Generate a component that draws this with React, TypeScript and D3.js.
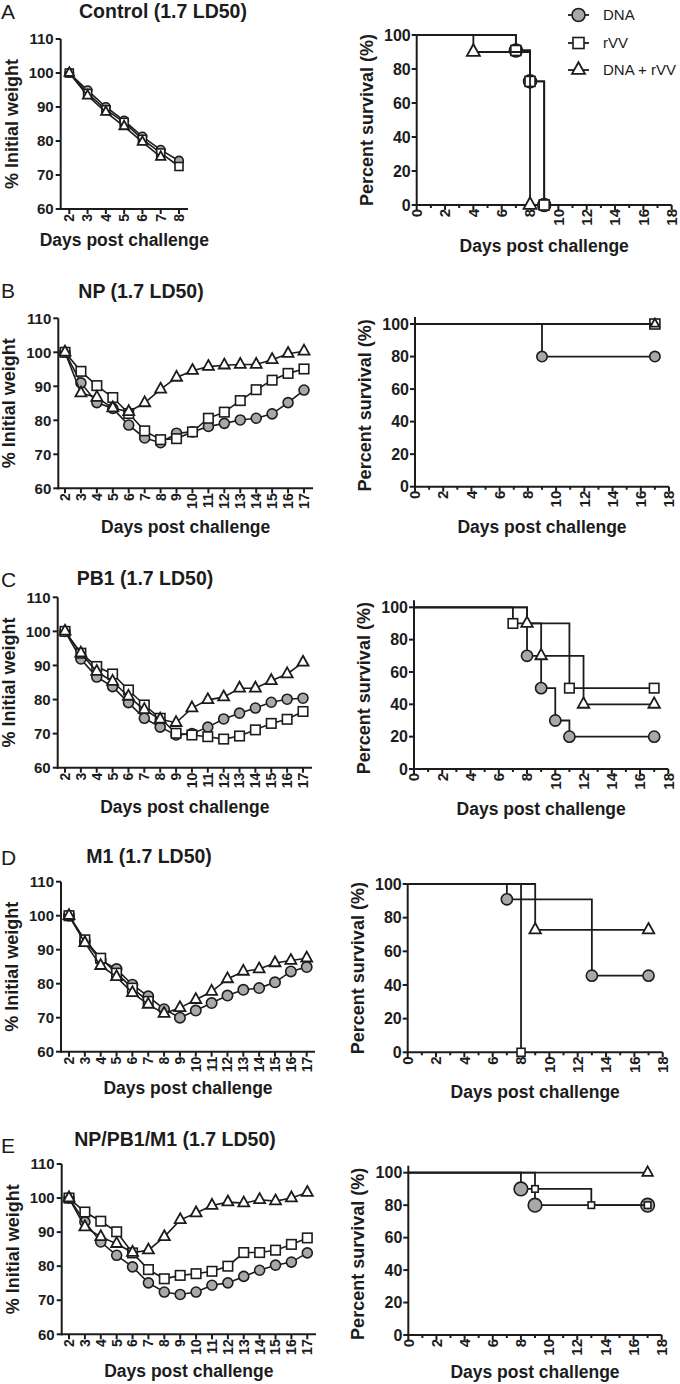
import React from "react";
import * as d3 from "d3";

// ---------- DATA ----------
const WEIGHT_TICKS = [60, 70, 80, 90, 100, 110];
const SURV_Y_TICKS = [0, 20, 40, 60, 80, 100];
const SURV_X_TICKS = d3.range(0, 19);

const DAYS_A = [2, 3, 4, 5, 6, 7, 8];
const DAYS_FULL = [2, 3, 4, 5, 6, 7, 8, 9, 10, 11, 12, 13, 14, 15, 16, 17];

// Panel A weights
const A_DNA = [100, 94.9, 90, 86, 81.3, 77.4, 74.2];
const A_RVV = [100, 94, 89.2, 85.5, 80.5, 76.5, 72.5];
const A_DNARVV = [100, 93.3, 88.5, 84.3, 79.7, 75.3];
// Panel B weights
const B_DNA = [100, 91, 85.2, 83.5, 78.6, 74.8, 73.4, 76.2, 76.6, 78.2, 79.1, 80.1, 80.6, 81.9, 85.2, 88.9];
const B_RVV = [100, 94.4, 90.2, 86.7, 82, 76.9, 74.3, 74.6, 76.6, 80.6, 82.4, 85.8, 89, 91.8, 93.8, 95.1];
const B_DNARVV = [100, 88, 86.7, 83.6, 82.5, 85.1, 89.1, 92.6, 94.6, 95.8, 96.2, 96.4, 96.4, 97.8, 99.6, 100.3];
// Panel C weights
const C_DNA = [100, 91.9, 86.6, 83.8, 79.1, 74.5, 71.9, 69.6, 70, 71.9, 74.3, 76, 77.5, 79.2, 80.1, 80.4];
const C_RVV = [100, 93.6, 89.7, 87.5, 82.8, 78.4, 74.5, 70.1, 69.6, 69.1, 68.4, 69.3, 71.1, 73, 74.2, 76.5];
const C_DNARVV = [100, 93.6, 88.2, 85.3, 80.9, 77, 74.2, 73.2, 77.5, 79.9, 80.7, 83.3, 83.3, 85.5, 87.5, 90.9];
// Panel D weights
const D_DNA = [100, 92.5, 87, 84.3, 79.7, 76.3, 72.5, 70, 72.1, 74.3, 76.5, 78.2, 78.7, 80.4, 83.6, 84.9];
const D_RVV = [100, 92.9, 87.5, 83.1, 78.7, 74.8];
const D_DNARVV = [100, 92, 85.3, 82, 77.3, 73.9, 71.2, 72.9, 75.3, 77.7, 81.4, 83.6, 84.3, 86.1, 86.8, 87.5];
// Panel E weights
const E_DNA = [100, 93, 87.1, 83.2, 79.8, 75.1, 72.4, 71.7, 72.4, 74.4, 75.1, 77, 78.8, 80.3, 81.2, 83.9];
const E_RVV = [100, 95.9, 93.2, 90.1, 83.9, 79, 76.3, 77.3, 77.8, 78.5, 80, 84, 84, 84.7, 86.4, 88.3];
const E_DNARVV = [100, 91.5, 88.6, 86.6, 84, 84.7, 88.6, 93.6, 95.6, 97.8, 98.8, 98.5, 99.5, 99.1, 100, 101.6];

// Survival curves: [day, percent]
const SA_DNA = [[0, 100], [7, 90.9], [8, 72.7], [9, 0]];
const SA_RVV = [[0, 100], [7, 90.9], [8, 72.7], [9, 0]];
const SA_DNARVV = [[0, 100], [4, 90], [8, 0]];
const SB_DNA = [[0, 100], [9, 80], [17, 80]];
const SB_RVV = [[0, 100], [17, 100]];
const SB_DNARVV = [[0, 100], [17, 100]];
const SC_DNA = [[0, 100], [8, 70], [9, 50], [10, 30], [11, 20], [17, 20]];
const SC_RVV = [[0, 100], [7, 90], [11, 50], [17, 50]];
const SC_DNARVV = [[0, 100], [8, 90], [9, 70], [12, 40], [17, 40]];
const SD_DNA = [[0, 100], [7, 90.9], [13, 45.5], [17, 45.5]];
const SD_RVV = [[0, 100], [8, 0]];
const SD_DNARVV = [[0, 100], [9, 72.7], [17, 72.7]];
const SE_DNA = [[0, 100], [8, 90], [9, 80], [17, 80]];
const SE_RVV = [[0, 100], [9, 90], [13, 80], [17, 80]];
const SE_DNARVV = [[0, 100], [17, 100]];

const LEGEND = ["DNA", "rVV", "DNA + rVV"];
const MARKERS = ["circle", "square", "triangle"];

const FONT = "'Liberation Sans', Arial, Helvetica, sans-serif";
const INK = "#1c1c1c";
const GRAY = "#a8a8a8";

// ---------- PANEL LAYOUT ----------
const LEFT = [
  { letter: "A", title: "Control (1.7 LD50)", titleX: 163, titleY: 17.5, letterY: 18.5, days: DAYS_A, series: [A_DNA, A_RVV, A_DNARVV], x0: 60.7, x1: 188, d2: 69.3, dN: 179, yTop: 39, yBot: 209, xTitleDy: 37, ms: { r: 4.3, s: 8, t: 9.5 } },
  { letter: "B", title: "NP (1.7 LD50)", titleX: 141, titleY: 298, letterY: 298, days: DAYS_FULL, series: [B_DNA, B_RVV, B_DNARVV], x0: 58.3, x1: 313, d2: 65, dN: 304, yTop: 318.3, yBot: 488.3, xTitleDy: 45, ms: { r: 5, s: 9.5, t: 11 } },
  { letter: "C", title: "PB1 (1.7 LD50)", titleX: 145, titleY: 585, letterY: 587, days: DAYS_FULL, series: [C_DNA, C_RVV, C_DNARVV], x0: 57.7, x1: 312, d2: 65, dN: 303, yTop: 597.3, yBot: 767.7, xTitleDy: 45, ms: { r: 5, s: 9.5, t: 11 } },
  { letter: "D", title: "M1 (1.7 LD50)", titleX: 149, titleY: 863, letterY: 865, days: DAYS_FULL, series: [D_DNA, D_RVV, D_DNARVV], x0: 61, x1: 315, d2: 69, dN: 306.7, yTop: 881.7, yBot: 1051.7, xTitleDy: 42, ms: { r: 5.2, s: 9.5, t: 11 } },
  { letter: "E", title: "NP/PB1/M1 (1.7 LD50)", titleX: 175, titleY: 1146, letterY: 1153, days: DAYS_FULL, series: [E_DNA, E_RVV, E_DNARVV], x0: 61.7, x1: 316, d2: 69, dN: 307.3, yTop: 1164, yBot: 1334.3, xTitleDy: 43, ms: { r: 5, s: 9.5, t: 11 } },
];

const RIGHT = [
  { series: [SA_DNA, SA_RVV, SA_DNARVV], x0: 416.7, x18: 671.7, yTop: 35, yBot: 205, extra: 0, xTitleDy: 47, ms: { r: 6.5, s: 10, t: 13 } },
  { series: [SB_DNA, SB_RVV, SB_DNARVV], x0: 415, x18: 669, yTop: 324, yBot: 486.7, extra: 7, xTitleDy: 46, ms: { r: 5.2, s: 10, t: 9 } },
  { series: [SC_DNA, SC_RVV, SC_DNARVV], x0: 414, x18: 668.3, yTop: 607.3, yBot: 769, extra: 7, xTitleDy: 46, ms: { r: 5.6, s: 9.5, t: 11.5 } },
  { series: [SD_DNA, SD_RVV, SD_DNARVV], x0: 407.7, x18: 662.7, yTop: 884, yBot: 1052.3, extra: 0, xTitleDy: 46, ms: { r: 5.6, s: 8, t: 11.5 } },
  { series: [SE_DNA, SE_RVV, SE_DNARVV], x0: 408.3, x18: 661.7, yTop: 1172.7, yBot: 1335, extra: 7, xTitleDy: 43, ms: { r: 6.8, s: 6.5, t: 10.5 } },
];

function Marker({ type, x, y, ms }: any) {
  if (type === "circle") {
    return <circle cx={x} cy={y} r={ms.r} fill={GRAY} stroke={INK} strokeWidth={1.6} />;
  }
  if (type === "square") {
    const s = ms.s;
    return <rect x={x - s / 2} y={y - s / 2} width={s} height={s} fill="#fff" stroke={INK} strokeWidth={1.6} />;
  }
  const w = ms.t;
  const h = w * 0.9;
  const p = `M${x},${y - (h * 2) / 3}L${x + w / 2},${y + h / 3}L${x - w / 2},${y + h / 3}Z`;
  return <path d={p} fill="#fff" stroke={INK} strokeWidth={1.8} strokeLinejoin="miter" />;
}

function RotLabel({ x, y, text, size }: any) {
  return (
    <text
      transform={`translate(${x},${y}) rotate(-90)`}
      textAnchor="end"
      dy="0.35em"
      fontSize={size}
      fontWeight="bold"
      fill={INK}
    >
      {text}
    </text>
  );
}

function WeightPanel({ c }: any) {
  const last = c.days[c.days.length - 1];
  const x = d3.scaleLinear().domain([2, last]).range([c.d2, c.dN]);
  const y = d3.scaleLinear().domain([60, 110]).range([c.yBot, c.yTop]);
  const line = d3.line<[number, number]>().x((d) => x(d[0])).y((d) => y(d[1]));
  const midY = (c.yTop + c.yBot) / 2;
  return (
    <g>
      <text x={1} y={c.letterY} fontSize={21} fill={INK}>{c.letter}</text>
      <text x={c.titleX} y={c.titleY} fontSize={19.5} fontWeight="bold" textAnchor="middle" fill={INK}>{c.title}</text>
      {/* axes */}
      <line x1={c.x0} x2={c.x0} y1={c.yTop} y2={c.yBot + 1} stroke={INK} strokeWidth={2} />
      <line x1={c.x0 - 1} x2={c.x1} y1={c.yBot} y2={c.yBot} stroke={INK} strokeWidth={2} />
      {WEIGHT_TICKS.map((t) => (
        <g key={t}>
          <line x1={c.x0 - 5} x2={c.x0} y1={y(t)} y2={y(t)} stroke={INK} strokeWidth={2} />
          <text x={c.x0 - 7} y={y(t)} dy="0.35em" textAnchor="end" fontSize={15} fontWeight="bold" fill={INK}>{t}</text>
        </g>
      ))}
      {c.days.map((d: number) => (
        <g key={d}>
          <line x1={x(d)} x2={x(d)} y1={c.yBot} y2={c.yBot + 5} stroke={INK} strokeWidth={2} />
          <RotLabel x={x(d)} y={c.yBot + 5} text={d} size={14} />
        </g>
      ))}
      <text
        transform={`translate(${c.x0 - 43},${midY}) rotate(-90)`}
        textAnchor="middle"
        fontSize={18}
        fontWeight="bold"
        fill={INK}
      >
        % Initial weight
      </text>
      <text x={(c.x0 + c.x1) / 2} y={c.yBot + c.xTitleDy} textAnchor="middle" fontSize={17.5} fontWeight="bold" fill={INK}>
        Days post challenge
      </text>
      {c.series.map((vals: number[], i: number) => {
        const pts = vals.map((v, k) => [c.days[k], v] as [number, number]);
        return (
          <g key={i}>
            <path d={line(pts) || ""} fill="none" stroke={INK} strokeWidth={1.6} />
            {pts.map((p, k) => (
              <Marker key={k} type={MARKERS[i]} x={x(p[0])} y={y(p[1])} ms={c.ms} />
            ))}
          </g>
        );
      })}
    </g>
  );
}

function SurvivalPanel({ c }: any) {
  const x = d3.scaleLinear().domain([0, 18]).range([c.x0, c.x18]);
  const y = d3.scaleLinear().domain([0, 100]).range([c.yBot, c.yTop]);
  const line = d3.line<number[]>().x((d) => x(d[0])).y((d) => y(d[1])).curve(d3.curveStepAfter);
  const midY = (c.yTop + c.yBot) / 2;
  return (
    <g>
      <line x1={c.x0} x2={c.x0} y1={c.yTop - c.extra} y2={c.yBot + 1} stroke={INK} strokeWidth={2} />
      <line x1={c.x0 - 1} x2={c.x18} y1={c.yBot} y2={c.yBot} stroke={INK} strokeWidth={2} />
      {SURV_Y_TICKS.map((t) => (
        <g key={t}>
          <line x1={c.x0 - 5} x2={c.x0} y1={y(t)} y2={y(t)} stroke={INK} strokeWidth={2} />
          <text x={c.x0 - 6} y={y(t)} dy="0.35em" textAnchor="end" fontSize={16} fontWeight="bold" fill={INK}>{t}</text>
        </g>
      ))}
      {SURV_X_TICKS.map((d) => (
        <g key={d}>
          <line x1={x(d)} x2={x(d)} y1={c.yBot} y2={c.yBot + (d % 2 === 0 ? 5 : 3)} stroke={INK} strokeWidth={2} />
          {d % 2 === 0 ? <RotLabel x={x(d)} y={c.yBot + 4} text={d} size={15} /> : null}
        </g>
      ))}
      <text
        transform={`translate(${c.x0 - 44},${midY}) rotate(-90)`}
        textAnchor="middle"
        fontSize={18}
        fontWeight="bold"
        fill={INK}
      >
        Percent survival (%)
      </text>
      <text x={(c.x0 + c.x18) / 2} y={c.yBot + c.xTitleDy} textAnchor="middle" fontSize={17.5} fontWeight="bold" fill={INK}>
        Days post challenge
      </text>
      {c.series.map((pts: number[][], i: number) => (
        <g key={i}>
          <path d={line(pts) || ""} fill="none" stroke={INK} strokeWidth={1.8} />
          {pts.slice(1).map((p, k) => (
            <Marker key={k} type={MARKERS[i]} x={x(p[0])} y={y(p[1])} ms={c.ms} />
          ))}
        </g>
      ))}
    </g>
  );
}

function Legend() {
  const ys = [15, 43, 70];
  const ms = { r: 6.5, s: 11, t: 13 };
  return (
    <g>
      {LEGEND.map((name, i) => (
        <g key={name}>
          <line x1={568} x2={589} y1={ys[i]} y2={ys[i]} stroke={INK} strokeWidth={1.8} />
          <Marker type={MARKERS[i]} x={578.5} y={ys[i]} ms={ms} />
          <text x={603} y={ys[i]} dy="0.36em" fontSize={15} fill={INK}>{name}</text>
        </g>
      ))}
    </g>
  );
}

export default function App() {
  return (
    <svg
      width={680}
      height={1384}
      style={{ position: "absolute", left: 0, top: 0, background: "#fff" }}
      fontFamily={FONT}
    >
      <rect width={680} height={1384} fill="#fff" />
      {LEFT.map((c, i) => (
        <WeightPanel key={i} c={c} />
      ))}
      {RIGHT.map((c, i) => (
        <SurvivalPanel key={i} c={c} />
      ))}
      <Legend />
    </svg>
  );
}
